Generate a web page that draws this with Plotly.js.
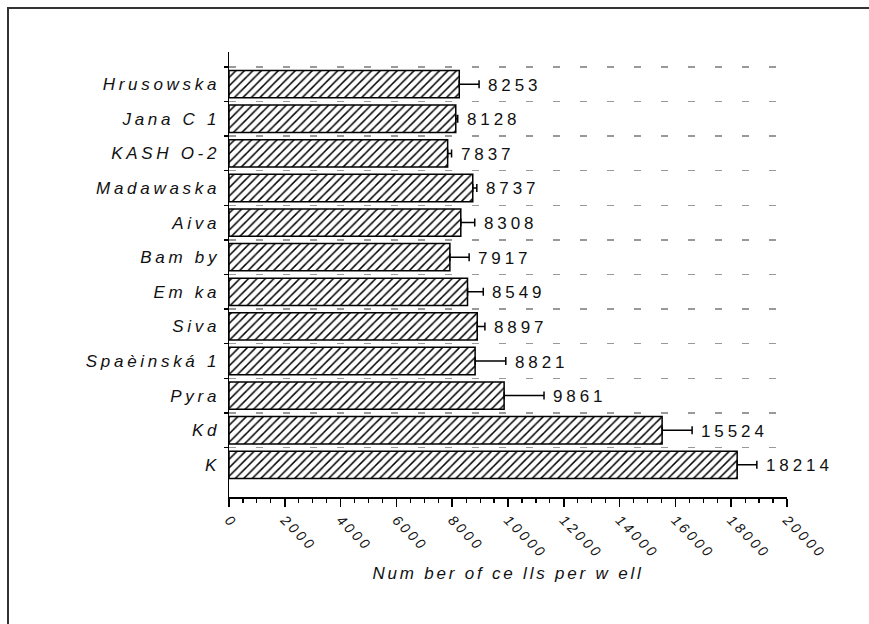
<!DOCTYPE html>
<html>
<head>
<meta charset="utf-8">
<script src="https://cdn.plot.ly/plotly-3.0.1.min.js"></script>
<style>
  html, body { margin: 0; padding: 0; background: #fff; overflow: hidden; }
  #wrap { position: relative; width: 869px; height: 624px; overflow: hidden; }
  #chart { width: 869px; height: 624px; }
  #frame { position: absolute; left: 7px; top: 7px; width: 900px; height: 700px;
           border-left: 2px solid #333; border-top: 2px solid #333; pointer-events: none; }
  .ytick text { letter-spacing: 3.7px; }
  .xtick text { letter-spacing: 3px; }
  .annotation-text { letter-spacing: 3.9px; }
  .xtitle { letter-spacing: 2.8px; }
</style>
</head>
<body>
<div id="wrap">
  <div id="chart"></div>
  <div id="frame"></div>
</div>
<script>
// Categories, top to bottom as drawn
const categories = ["Hrusowska", "Jana C 1", "KASH O-2", "Madawaska", "Aiva", "Bam by",
                    "Em ka", "Siva", "Spaèinská 1", "Pyra", "Kd", "K"];
const cellCounts = [8253, 8128, 7837, 8737, 8308, 7917, 8549, 8897, 8821, 9861, 15524, 18214];
const errPlus    = [710, 70, 140, 145, 500, 690, 565, 275, 1100, 1430, 1075, 705];
const xTickVals  = [0, 2000, 4000, 6000, 8000, 10000, 12000, 14000, 16000, 18000, 20000];
const xTitle = "Num ber of ce lls per w ell";

const font = "Liberation Sans, Arial, sans-serif";

const trace = {
  type: "bar",
  orientation: "h",
  x: cellCounts,
  y: categories,
  width: 0.79,
  marker: {
    color: "white",
    line: { color: "black", width: 1.5 },
    pattern: { shape: "/", size: 6, solidity: 0.25, fgcolor: "black", bgcolor: "white", fillmode: "replace" }
  },
  error_x: {
    type: "data",
    symmetric: false,
    array: errPlus,
    arrayminus: errPlus.map(() => 0),
    color: "black",
    thickness: 1.5,
    width: 4
  },
  hoverinfo: "none"
};

const annotations = categories.map((c, i) => ({
  x: cellCounts[i] + errPlus[i],
  y: c,
  xref: "x", yref: "y",
  text: String(cellCounts[i]),
  showarrow: false,
  xanchor: "left",
  yanchor: "middle",
  xshift: 7,
  yshift: -1,
  font: { family: font, size: 17, color: "#111" }
}));

const layout = {
  width: 869,
  height: 624,
  margin: { l: 229, r: 82, t: 52, b: 127 },
  paper_bgcolor: "white",
  plot_bgcolor: "white",
  showlegend: false,
  xaxis: {
    range: [0, 20000],
    tickvals: xTickVals,
    ticktext: xTickVals.map(String),
    tickangle: 45,
    ticks: "outside",
    ticklen: 8,
    tickwidth: 1.5,
    tickcolor: "black",
    minor: { dtick: 500, ticks: "outside", ticklen: 4, tickwidth: 1.2, tickcolor: "black", showgrid: false },
    showline: true,
    linecolor: "black",
    linewidth: 1.5,
    showgrid: false,
    zeroline: false,
    tickfont: { family: font, size: 14, color: "#111", style: "italic" },
    title: { text: xTitle, font: { family: font, size: 17, color: "#111", style: "italic" }, standoff: 6 },
    fixedrange: true
  },
  yaxis: {
    type: "category",
    range: [categories.length - 1 + 0.93, -0.93],
    tickson: "boundaries",
    ticks: "outside",
    ticklen: 4,
    tickwidth: 1.5,
    tickcolor: "black",
    ticklabelstandoff: 4,
    showline: true,
    linecolor: "black",
    linewidth: 1.5,
    showgrid: true,
    gridcolor: "#999",
    gridwidth: 1.5,
    griddash: "7px,20px",
    zeroline: false,
    tickfont: { family: font, size: 17, color: "#111", style: "italic" },
    fixedrange: true
  },
  annotations: annotations
};

Plotly.newPlot("chart", [trace], layout, { displayModeBar: false, staticPlot: true });
</script>
</body>
</html>
